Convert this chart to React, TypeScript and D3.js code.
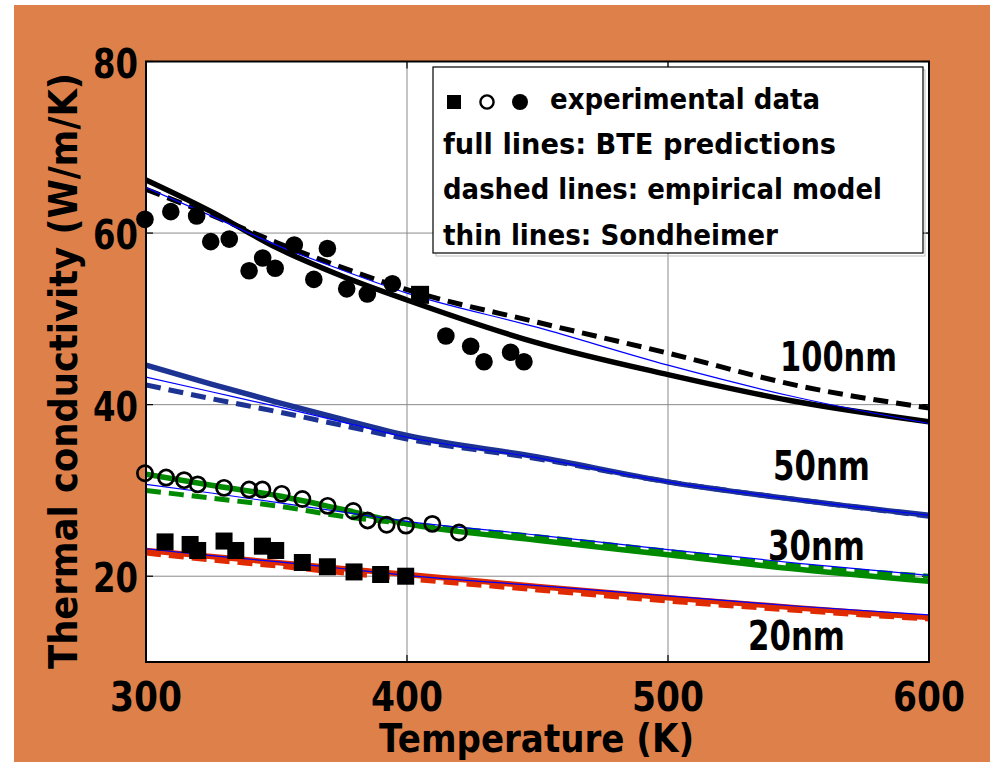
import React from "react";
import * as d3 from "d3";

// ---- data ----
const temps = [300, 325, 350, 375, 400, 450, 500, 550, 600];

// BTE predictions (full lines)
const bte100 = [66.2, 62.5, 58.3, 55.0, 52.2, 47.2, 43.5, 40.3, 38.0];
const bte50 = [44.6, 42.4, 40.3, 38.3, 36.4, 33.9, 31.0, 28.9, 27.1];
const bte30 = [31.9, 30.6, 29.4, 27.8, 26.1, 24.2, 22.5, 20.8, 19.4];
const bte20 = [23.0, 22.3, 21.6, 20.9, 20.2, 18.8, 17.5, 16.3, 15.2];

// empirical model (dashed lines)
const emp100 = [65.1, 62.1, 58.9, 56.0, 53.4, 49.6, 46.0, 42.2, 39.6];
const emp50 = [42.3, 40.7, 39.2, 37.6, 36.0, 33.7, 31.0, 28.9, 27.0];
const emp30 = [30.0, 29.1, 28.2, 27.0, 26.1, 24.6, 22.9, 21.2, 20.0];
const emp20 = [22.7, 21.9, 21.2, 20.4, 19.7, 18.4, 17.1, 16.0, 15.0];

// Sondheimer (thin lines)
const sond100 = [65.3, 62.0, 58.6, 55.7, 53.0, 49.0, 44.6, 40.8, 37.8];
const sond50 = [43.2, 41.5, 39.8, 38.0, 36.2, 33.8, 31.0, 28.9, 27.1];
const sond30 = [30.7, 29.7, 28.6, 27.5, 26.4, 24.8, 23.1, 21.5, 20.1];
const sond20 = [23.2, 22.4, 21.7, 20.9, 20.1, 18.9, 17.7, 16.5, 15.5];

// experimental data
const exp100T = [299.6, 309.5, 319.4, 324.8, 331.9, 339.5, 344.7, 349.5, 356.8, 364.3, 369.5, 376.9, 384.8, 394.4, 414.9, 424.4, 429.5, 439.7, 444.8];
const exp100K = [61.6, 62.5, 62.0, 59.0, 59.3, 55.6, 57.1, 55.9, 58.6, 54.6, 58.2, 53.5, 52.9, 54.1, 48.0, 46.8, 45.0, 46.1, 45.0];
const expSqT = [405.0];
const expSqK = [52.8];
const exp30T = [299.6, 307.7, 314.6, 319.8, 329.9, 339.5, 344.6, 352.0, 359.9, 369.6, 379.4, 384.9, 392.2, 399.6, 409.7, 419.9];
const exp30K = [32.0, 31.5, 31.2, 30.7, 30.3, 30.1, 30.1, 29.6, 29.0, 28.2, 27.6, 26.5, 26.0, 25.9, 26.1, 25.1];
const exp20T = [307.3, 316.9, 319.8, 329.9, 334.4, 344.6, 349.7, 359.9, 369.5, 379.7, 389.9, 399.5];
const exp20K = [24.0, 23.7, 23.0, 24.1, 23.0, 23.5, 23.0, 21.6, 21.1, 20.5, 20.2, 20.0];

const xTicks = [300, 400, 500, 600];
const yTicks = [20, 40, 60, 80];
const xGrid = [400, 500];
const yGrid = [20, 40, 60];

const seriesNames = ["100nm", "50nm", "30nm", "20nm"];
const seriesColors = ["#000000", "#1C3393", "#008A00", "#E02A00"];
const bteAll = [bte100, bte50, bte30, bte20];
const empAll = [emp100, emp50, emp30, emp20];
const sondAll = [sond100, sond50, sond30, sond20];

const legendLines = [
  "experimental data",
  "full lines: BTE predictions",
  "dashed lines: empirical model",
  "thin lines: Sondheimer",
];

const FONT = "'DejaVu Sans', sans-serif";

export default function App() {
  const L = 146, R = 929, T = 61.5, B = 662;
  const x = d3.scaleLinear().domain([300, 600]).range([L, R]);
  const y = d3.scaleLinear().domain([10, 80]).range([B, T]);
  const mkLine = (vals: number[]) =>
    d3
      .line<number>()
      .x((_, i) => x(temps[i]))
      .y((d) => y(d))
      .curve(d3.curveMonotoneX)(vals) || "";

  // label anchors: [left x px, baseline y px, width]
  const labelPos = [
    [780, 371, 117],
    [773, 480, 97],
    [768, 560, 97],
    [748, 650, 97],
  ];
  const legendWidths = [270, 393, 439, 335];
  const legendX = [550, 443, 443, 443];
  const legendY = [109, 154, 199, 245];

  return (
    <svg
      width={990}
      height={762}
      style={{ position: "absolute", left: 0, top: 0, display: "block" }}
      fontFamily={FONT}
      fontWeight="bold"
    >
      <rect x={0} y={0} width={990} height={762} fill="#ffffff" />
      <rect x={14} y={5} width={976} height={757} fill="#DE804A" />
      <defs>
        <clipPath id="plotclip">
          <rect x={L} y={T} width={R - L} height={B - T} />
        </clipPath>
      </defs>
      <rect x={L} y={T} width={R - L} height={B - T} fill="#ffffff" />

      {/* grid */}
      {xGrid.map((v) => (
        <line key={"gx" + v} x1={x(v)} x2={x(v)} y1={T} y2={B} stroke="#8a8a8a" strokeWidth={1} />
      ))}
      {yGrid.map((v) => (
        <line key={"gy" + v} x1={L} x2={R} y1={y(v)} y2={y(v)} stroke="#8a8a8a" strokeWidth={1} />
      ))}

      {/* ticks */}
      {xTicks.map((v) => (
        <g key={"tx" + v}>
          <line x1={x(v)} x2={x(v)} y1={B} y2={B - 7} stroke="#000" strokeWidth={1.2} />
          <line x1={x(v)} x2={x(v)} y1={T} y2={T + 7} stroke="#000" strokeWidth={1.2} />
        </g>
      ))}
      {yTicks.map((v) => (
        <g key={"ty" + v}>
          <line x1={L} x2={L + 7} y1={y(v)} y2={y(v)} stroke="#000" strokeWidth={1.2} />
          <line x1={R} x2={R - 7} y1={y(v)} y2={y(v)} stroke="#000" strokeWidth={1.2} />
        </g>
      ))}

      {/* lines */}
      <g clipPath="url(#plotclip)" fill="none">
        {bteAll.map((vals, i) => (
          <path key={"b" + i} d={mkLine(vals)} stroke={seriesColors[i]} strokeWidth={5.5} />
        ))}
        {empAll.map((vals, i) => (
          <path key={"e" + i} d={mkLine(vals)} stroke={seriesColors[i]} strokeWidth={5} strokeDasharray="15,8" />
        ))}
        {sondAll.map((vals, i) => (
          <path key={"s" + i} d={mkLine(vals)} stroke="#0000FF" strokeWidth={1.2} />
        ))}
      </g>

      {/* experimental markers */}
      {exp100T.map((t, i) => (
        <circle key={"c1" + i} cx={x(t)} cy={y(exp100K[i])} r={8.8} fill="#000" />
      ))}
      {expSqT.map((t, i) => (
        <rect key={"sq" + i} x={x(t) - 9} y={y(expSqK[i]) - 9} width={18} height={18} fill="#000" />
      ))}
      {exp30T.map((t, i) => (
        <circle key={"c3" + i} cx={x(t)} cy={y(exp30K[i])} r={7.6} fill="none" stroke="#000" strokeWidth={2.7} />
      ))}
      {exp20T.map((t, i) => (
        <rect key={"s2" + i} x={x(t) - 8.5} y={y(exp20K[i]) - 8.5} width={17} height={17} fill="#000" />
      ))}

      {/* series labels */}
      {seriesNames.map((n, i) => (
        <text
          key={"lab" + n}
          x={labelPos[i][0]}
          y={labelPos[i][1]}
          fontSize={40}
          textLength={labelPos[i][2]}
          lengthAdjust="spacingAndGlyphs"
          fill="#000"
        >
          {n}
        </text>
      ))}

      {/* legend */}
      <rect x={436} y={70} width={489} height={186} fill="none" stroke="#bdbdbd" strokeWidth={1} />
      <rect x={433} y={67} width={490} height={186} fill="#ffffff" stroke="#000" strokeWidth={1.2} />
      <rect x={447} y={95} width={14} height={14} fill="#000" />
      <circle cx={487} cy={102} r={6.6} fill="none" stroke="#000" strokeWidth={2.4} />
      <circle cx={520} cy={102} r={8} fill="#000" />
      {legendLines.map((s, i) => (
        <text
          key={"lg" + i}
          x={legendX[i]}
          y={legendY[i]}
          fontSize={29}
          textLength={legendWidths[i]}
          lengthAdjust="spacingAndGlyphs"
          fill="#000"
        >
          {s}
        </text>
      ))}

      {/* frame */}
      <rect x={L} y={T} width={R - L} height={B - T} fill="none" stroke="#000" strokeWidth={2} />

      {/* tick labels */}
      {xTicks.map((v) => (
        <text
          key={"xl" + v}
          x={x(v) - 36}
          y={711}
          fontSize={40}
          textLength={72}
          lengthAdjust="spacingAndGlyphs"
          fill="#000"
        >
          {v}
        </text>
      ))}
      {yTicks.map((v) => (
        <text
          key={"yl" + v}
          x={138 - 45}
          y={y(v) + 16}
          fontSize={40}
          textLength={45}
          lengthAdjust="spacingAndGlyphs"
          fill="#000"
        >
          {v}
        </text>
      ))}

      {/* axis titles */}
      <text x={379} y={752} fontSize={39} textLength={315} lengthAdjust="spacingAndGlyphs" fill="#000">
        Temperature (K)
      </text>
      <text
        transform="translate(77,669) rotate(-90)"
        x={0}
        y={0}
        fontSize={39}
        textLength={596}
        lengthAdjust="spacingAndGlyphs"
        fill="#000"
      >
        Thermal conductivity (W/m/K)
      </text>
    </svg>
  );
}
